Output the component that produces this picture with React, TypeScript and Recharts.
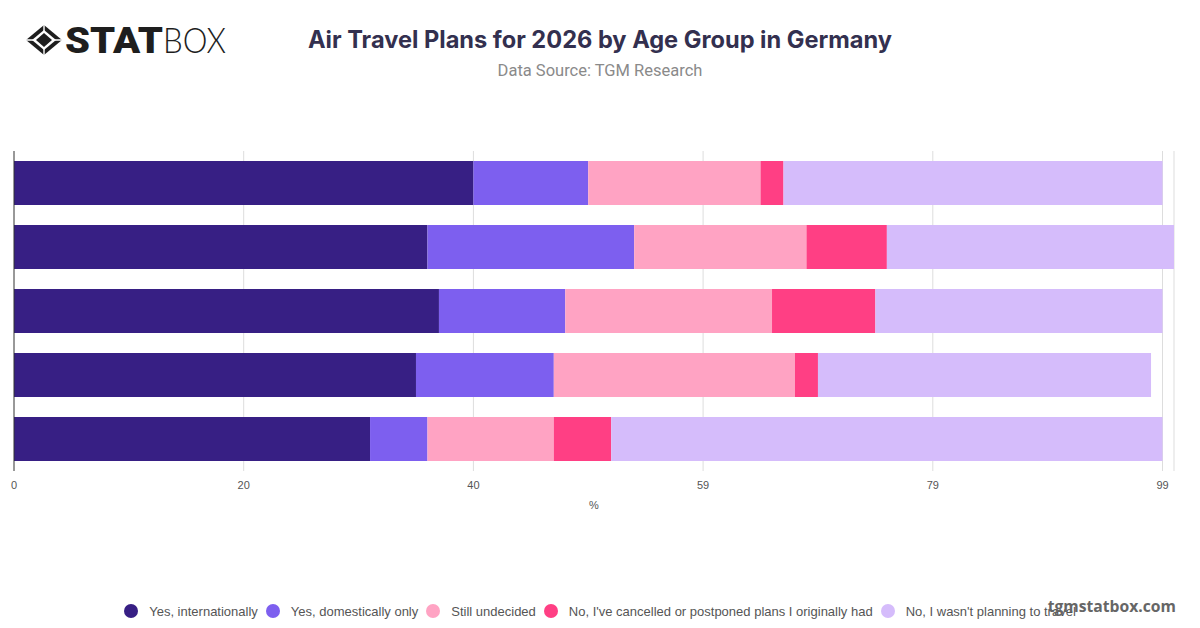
import { BarChart, Bar, XAxis, YAxis, CartesianGrid, Legend, Label } from 'recharts';

const ageGroups = ['Group 1', 'Group 2', 'Group 3', 'Group 4', 'Group 5'];
const internationally = [40, 36, 37, 35, 31];
const domestically = [10, 18, 11, 12, 5];
const undecided = [15, 15, 18, 21, 11];
const cancelled = [2, 7, 9, 2, 5];
const notPlanning = [33, 25, 25, 29, 48];

const seriesKeys = ['internationally', 'domestically', 'undecided', 'cancelled', 'notPlanning'];
const seriesNames = [
  'Yes, internationally',
  'Yes, domestically only',
  'Still undecided',
  "No, I've cancelled or postponed plans I originally had",
  "No, I wasn't planning to travel",
];
const seriesColors = ['#371f84', '#7d5fef', '#ffa3c3', '#ff3f84', '#d5bcfb'];

const tickValues = [0, 20, 40, 60, 80, 100];
const tickLabels = ['0', '20', '40', '59', '79', '99'];
const gridValues = [20, 40, 60, 80, 100, 101];

const data = ageGroups.map((group, i) => ({
  group,
  internationally: internationally[i],
  domestically: domestically[i],
  undecided: undecided[i],
  cancelled: cancelled[i],
  notPlanning: notPlanning[i],
}));

const FONT = '"Liberation Sans", Arial, sans-serif';

function Logo() {
  return (
    <svg width={240} height={70} style={{ position: 'absolute', left: 0, top: 0 }}>
      <path d="M44 25 L62 40 L44 55 L26 40 Z" fill="#1e1e1e" />
      <path d="M44 30 L56 40 L44 50 L32 40 Z" fill="#fff" />
      <path d="M44 33 L52 40 L44 47 L36 40 Z" fill="#1e1e1e" />
      <path d="M26 40 L33 40 M55 40 L62 40 M44 25 L44 31 M44 49 L44 55" stroke="#fff" strokeWidth={1.4} />
      <text x={65} y={53} fontFamily="Roboto" fontWeight={900} fontSize={36} fill="#1e1e1e" textLength={98} lengthAdjust="spacingAndGlyphs">
        STAT
      </text>
      <text x={163} y={53} fontFamily="Lato" fontWeight={300} fontSize={36} fill="#1e1e1e" textLength={63} lengthAdjust="spacingAndGlyphs">
        BOX
      </text>
    </svg>
  );
}

function ChartLegend() {
  return (
    <div style={{ display: 'flex', justifyContent: 'center', alignItems: 'center', height: 18, fontSize: 13, fontFamily: FONT, color: '#555555', whiteSpace: 'nowrap' }}>
      {seriesNames.map((name, i) => (
        <span key={name} style={{ display: 'flex', alignItems: 'center', marginRight: i < seriesNames.length - 1 ? 8 : 0 }}>
          <span style={{ width: 14, height: 14, borderRadius: 7, background: seriesColors[i], marginRight: 11 }} />
          {name}
        </span>
      ))}
    </div>
  );
}

export default function App() {
  return (
    <div style={{ position: 'fixed', left: 0, top: 0, width: 1200, height: 628, background: '#fff', fontFamily: FONT, overflow: 'hidden' }}>
      <BarChart
        width={1200}
        height={628}
        data={data}
        layout="vertical"
        barSize={44}
        margin={{ left: 13, right: 26, top: 151, bottom: 99 }}
      >
        <CartesianGrid horizontal={false} stroke="#dddddd" verticalValues={gridValues} />
        <XAxis
          type="number"
          domain={[0, 101]}
          ticks={tickValues}
          interval={0}
          tickFormatter={(v: number) => tickLabels[tickValues.indexOf(v)] ?? ''}
          axisLine={false}
          tickLine={false}
          height={40}
          tick={{ fontSize: 11, fill: '#555555', fontFamily: FONT }}
          tickMargin={4}
        >
          <Label value="%" position="insideBottom" offset={2} style={{ fontSize: 11, fontFamily: FONT, fill: '#555555' }} />
        </XAxis>
        <YAxis type="category" dataKey="group" width={1} tick={false} tickLine={false} axisLine={{ stroke: '#333333' }} />
        <Legend height={18} verticalAlign="bottom" wrapperStyle={{ bottom: 8, left: 0, width: 1200 }} content={<ChartLegend />} />
        {seriesKeys.map((key, i) => (
          <Bar key={key} dataKey={key} name={seriesNames[i]} stackId="a" fill={seriesColors[i]} isAnimationActive={false} />
        ))}
      </BarChart>
      <Logo />
      <div style={{ position: 'absolute', left: 0, width: 1200, top: 24, textAlign: 'center', fontFamily: 'Inter', fontWeight: 700, fontSize: 23.6, lineHeight: '32px', color: '#33304f' }}>
        Air Travel Plans for 2026 by Age Group in Germany
      </div>
      <div style={{ position: 'absolute', left: 0, width: 1200, top: 61, textAlign: 'center', fontFamily: 'Roboto', fontSize: 16.5, lineHeight: '20px', color: '#8a8a8a' }}>
        Data Source: TGM Research
      </div>
      <div style={{ position: 'absolute', right: 24, top: 596, fontFamily: 'Open Sans', fontWeight: 700, fontSize: 15.7, lineHeight: '20px', color: '#666666' }}>
        tgmstatbox.com
      </div>
    </div>
  );
}
